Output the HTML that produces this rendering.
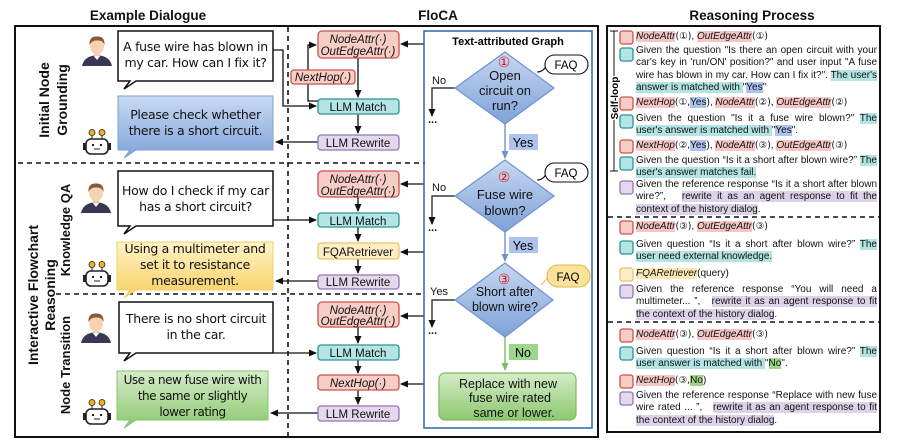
<!DOCTYPE html>
<html><head><meta charset="utf-8"><style>
body{margin:0;width:897px;height:441px;background:#fff;position:relative;overflow:hidden;font-family:"Liberation Sans","DejaVu Sans",sans-serif}
.a{position:absolute}
.bt{position:absolute;font-family:"DejaVu Sans",sans-serif;font-size:12.5px;line-height:16px;text-align:center;color:#111;letter-spacing:-0.3px;white-space:nowrap}
.p{position:absolute;left:636px;width:241px;font-size:10px;line-height:12.4px;text-align:justify;text-align-last:left;color:#111}
.hr{background:#f5c6c6}.ht{background:#b3e3e3}.hb{background:#adc3ee}.hp{background:#ddd3e8}.hg{background:#9fd48c}.hy{background:#fbe8b5}
i{font-style:italic}
.c{font-family:"DejaVu Sans",sans-serif;font-size:9.5px}
</style></head><body>
<svg class="a" style="left:0;top:0" width="897" height="441" viewBox="0 0 897 441">
<defs>
<marker id="ar" markerWidth="8" markerHeight="8" refX="7" refY="4" orient="auto" markerUnits="userSpaceOnUse"><path d="M0,0.5 L8,4 L0,7.5 Z" fill="#111"/></marker>
<marker id="ab" markerWidth="8" markerHeight="8" refX="7" refY="4" orient="auto" markerUnits="userSpaceOnUse"><path d="M0,0.5 L8,4 L0,7.5 Z" fill="#6d93cf"/></marker>
<marker id="ag" markerWidth="8" markerHeight="8" refX="7" refY="4" orient="auto" markerUnits="userSpaceOnUse"><path d="M0,0.5 L8,4 L0,7.5 Z" fill="#7cbb5e"/></marker>
<linearGradient id="gb" x1="0" y1="0" x2="0" y2="1"><stop offset="0" stop-color="#c9d9f2"/><stop offset="1" stop-color="#7fa4da"/></linearGradient>
<linearGradient id="gy" x1="0" y1="0" x2="0" y2="1"><stop offset="0" stop-color="#fff3c8"/><stop offset="1" stop-color="#f6cf5e"/></linearGradient>
<linearGradient id="gg" x1="0" y1="0" x2="0" y2="1"><stop offset="0" stop-color="#d5ecc8"/><stop offset="1" stop-color="#8cc96f"/></linearGradient>
<linearGradient id="gd" x1="0" y1="0" x2="0" y2="1"><stop offset="0" stop-color="#c7d7f0"/><stop offset="1" stop-color="#7ea2d8"/></linearGradient>
<g id="person"><path d="M0,30 Q2,20 15,19 Q28,20 30,30 Z" fill="#3b3656"/><path d="M11,19 L15,24 L19,19 Z" fill="#fff"/><rect x="12" y="14" width="6" height="6" fill="#f2c9a6"/><ellipse cx="15" cy="10" rx="7" ry="8.5" fill="#f6d2b2"/><path d="M7.5,9 Q7,0 15,0.5 Q23,0 22.5,9 Q21,4 15,4.5 Q10,4 7.5,9 Z" fill="#8a5a34"/></g>
<g id="robot"><line x1="8" y1="4" x2="8" y2="10" stroke="#222"/><line x1="18" y1="4" x2="18" y2="10" stroke="#222"/><circle cx="8" cy="3.5" r="3" fill="#f3b21a" stroke="#222" stroke-width=".8"/><circle cx="18" cy="3.5" r="3" fill="#f3b21a" stroke="#222" stroke-width=".8"/><rect x="2" y="10" width="22" height="15" rx="5" fill="#fff" stroke="#222" stroke-width="1.6"/><rect x="-1" y="14" width="3" height="7" fill="#222"/><rect x="24" y="14" width="3" height="7" fill="#222"/><rect x="8" y="15" width="2" height="2" fill="#222"/><rect x="16" y="15" width="2" height="2" fill="#222"/><line x1="10" y1="20" x2="16" y2="20" stroke="#222"/></g>
</defs>
<g font-weight="bold" font-size="13.5" text-anchor="middle" fill="#111">
<text x="148" y="20">Example Dialogue</text><text x="438" y="20">FloCA</text><text x="752" y="20">Reasoning Process</text></g>
<rect x="15" y="26" width="583" height="411" fill="none" stroke="#111" stroke-width="2"/>
<rect x="607" y="26" width="273" height="406" fill="none" stroke="#111" stroke-width="2"/>
<line x1="288" y1="27" x2="288" y2="436" stroke="#111" stroke-width="1.6" stroke-dasharray="5,4"/>
<line x1="18" y1="163" x2="425" y2="163" stroke="#111" stroke-width="1.6" stroke-dasharray="5,4"/>
<line x1="56" y1="294" x2="425" y2="294" stroke="#111" stroke-width="1.6" stroke-dasharray="5,4"/>
<line x1="608" y1="217" x2="880" y2="217" stroke="#111" stroke-width="1.6" stroke-dasharray="5,4"/>
<line x1="608" y1="322" x2="880" y2="322" stroke="#111" stroke-width="1.6" stroke-dasharray="5,4"/>
<g font-weight="bold" font-size="14" text-anchor="middle" fill="#111">
<text transform="translate(49,100) rotate(-90)">Initial Node</text><text transform="translate(67,100) rotate(-90)">Grounding</text>
<text transform="translate(38,295) rotate(-90)">Interactive Flowchart</text><text transform="translate(55,295) rotate(-90)">Reasoning</text>
<text font-size="13" transform="translate(70,230) rotate(-90)">Knowledge QA</text>
<text font-size="13" transform="translate(70,365) rotate(-90)">Node Transition</text></g>
<use href="#person" x="82" y="36"/><use href="#person" x="81" y="183"/><use href="#person" x="81" y="313"/>
<use href="#robot" x="84" y="129"/><use href="#robot" x="84" y="261"/><use href="#robot" x="84" y="399"/>
<g stroke="#111" stroke-width="1.5" fill="#fff">
<path d="M118,31 H273 V81 H136 L124,89 L130,81 H118 Z"/>
<path d="M118,171 H273 V226 H136 L124,234 L130,226 H118 Z"/>
<path d="M119,302 H273 V353 H136 L124,361 L130,353 H119 Z"/></g>
<path d="M118,96 H273 V150 H136 L124,158 L130,150 H118 Z" fill="url(#gb)" stroke="#7aa0d6"/>
<path d="M117,242 H273 V290 H136 L124,298 L130,290 H117 Z" fill="url(#gy)" stroke="#f2cf6a"/>
<path d="M117,371 H268 V420 H136 L124,428 L130,420 H117 Z" fill="url(#gg)" stroke="#8ac36f"/>
<g stroke="#111" stroke-width="1.3" fill="none">
<path d="M273,50 H283 V106 H316" marker-end="url(#ar)"/>
<path d="M318,101 H308 V45 H316" marker-end="url(#ar)"/>
<path d="M358,58 V97" marker-end="url(#ar)"/><path d="M358,114 V133" marker-end="url(#ar)"/>
<path d="M318,142 H276" marker-end="url(#ar)"/><path d="M424,44 H401" marker-end="url(#ar)"/>
<path d="M273,220 H316" marker-end="url(#ar)"/><path d="M424,184 H401" marker-end="url(#ar)"/>
<path d="M358,197 V211" marker-end="url(#ar)"/><path d="M358,227 V241" marker-end="url(#ar)"/>
<path d="M424,252 H401" marker-end="url(#ar)"/><path d="M358,259 V273" marker-end="url(#ar)"/>
<path d="M318,281 H276" marker-end="url(#ar)"/>
<path d="M273,353 H316" marker-end="url(#ar)"/><path d="M424,316 H401" marker-end="url(#ar)"/>
<path d="M358,327 V343" marker-end="url(#ar)"/><path d="M358,360 V373" marker-end="url(#ar)"/>
<path d="M424,384 H401" marker-end="url(#ar)"/><path d="M358,390 V404" marker-end="url(#ar)"/>
<path d="M318,413 H271" marker-end="url(#ar)"/></g>
<g stroke-width="1.3">
<rect x="318" y="31" width="81" height="27" rx="4" fill="#f7cdc6" stroke="#c9544a"/>
<rect x="291" y="70" width="64" height="14" rx="3" fill="#f7cdc6" stroke="#c9544a"/>
<rect x="318" y="99" width="81" height="15" rx="3" fill="#b4e4e4" stroke="#2a9494"/>
<rect x="318" y="135" width="81" height="15" rx="3" fill="#e3d8ec" stroke="#9575b5"/>
<rect x="318" y="171" width="81" height="26" rx="4" fill="#f7cdc6" stroke="#c9544a"/>
<rect x="318" y="213" width="81" height="14" rx="3" fill="#b4e4e4" stroke="#2a9494"/>
<rect x="318" y="243" width="81" height="16" rx="3" fill="#fdedc4" stroke="#e9c46a"/>
<rect x="318" y="275" width="81" height="14" rx="3" fill="#e3d8ec" stroke="#9575b5"/>
<rect x="318" y="302" width="81" height="25" rx="4" fill="#f7cdc6" stroke="#c9544a"/>
<rect x="318" y="345" width="81" height="15" rx="3" fill="#b4e4e4" stroke="#2a9494"/>
<rect x="318" y="375" width="81" height="15" rx="3" fill="#f7cdc6" stroke="#c9544a"/>
<rect x="318" y="406" width="81" height="15" rx="3" fill="#e3d8ec" stroke="#9575b5"/></g>
<g font-size="11.5" text-anchor="middle" fill="#111">
<text x="358" y="43" font-style="italic">NodeAttr(·)</text><text x="358" y="55" font-style="italic">OutEdgeAttr(·)</text>
<text x="323" y="81" font-style="italic">NextHop(·)</text>
<text x="358" y="111">LLM Match</text><text x="358" y="147">LLM Rewrite</text>
<text x="358" y="183" font-style="italic">NodeAttr(·)</text><text x="358" y="195" font-style="italic">OutEdgeAttr(·)</text>
<text x="358" y="225">LLM Match</text><text x="358" y="256">FQARetriever</text><text x="358" y="286">LLM Rewrite</text>
<text x="358" y="314" font-style="italic">NodeAttr(·)</text><text x="358" y="325" font-style="italic">OutEdgeAttr(·)</text>
<text x="358" y="357">LLM Match</text><text x="358" y="387" font-style="italic">NextHop(·)</text><text x="358" y="418">LLM Rewrite</text></g>
<rect x="424" y="31" width="168" height="397" fill="none" stroke="#2f64b0" stroke-width="1.5"/>
<text x="508" y="45" font-weight="bold" font-size="11" text-anchor="middle">Text-attributed Graph</text>
<g stroke="#6d93cf" stroke-width="1.4" fill="none">
<path d="M505,124 V158" marker-end="url(#ab)"/><path d="M505,232 V261" marker-end="url(#ab)"/></g>
<path d="M505,337 V370" stroke="#7cbb5e" stroke-width="1.4" marker-end="url(#ag)"/>
<g stroke="#111" stroke-width="1.2" fill="none">
<path d="M455,88 H432 V116" marker-end="url(#ar)"/><path d="M455,196 H432 V224" marker-end="url(#ar)"/><path d="M455,300 H432 V327" marker-end="url(#ar)"/></g>
<g font-size="11" fill="#111"><text x="432" y="84">No</text><text x="432" y="191">No</text><text x="430" y="295">Yes</text>
<text x="428" y="123" font-weight="bold">...</text><text x="428" y="231" font-weight="bold">...</text><text x="428" y="334" font-weight="bold">...</text></g>
<g stroke="#6d93cf" stroke-width="1.2" fill="url(#gd)">
<path d="M505,52 L554,88 L505,124 L455,88 Z"/><path d="M505,160 L554,196 L505,232 L455,196 Z"/><path d="M505,263 L553,300 L505,337 L455,300 Z"/></g>
<g font-size="13" text-anchor="middle" fill="#111">
<text x="505" y="80">Open</text><text x="505" y="95">circuit on</text><text x="505" y="110">run?</text>
<text x="505" y="199">Fuse wire</text><text x="505" y="215">blown?</text>
<text x="505" y="296" font-size="12.5">Short after</text><text x="505" y="311" font-size="12.5">blown wire?</text></g>
<g font-family="DejaVu Sans,sans-serif" fill="#e11" text-anchor="middle" font-size="14"><text x="504" y="67">①</text><text x="504" y="182">②</text><text x="504" y="284">③</text><text x="448" y="414">④</text></g>
<rect x="509" y="134" width="29" height="16" fill="#adc3ee"/><text x="523" y="147" font-size="12.5" text-anchor="middle">Yes</text>
<rect x="509" y="237" width="29" height="16" fill="#adc3ee"/><text x="523" y="250" font-size="12.5" text-anchor="middle">Yes</text>
<rect x="509" y="344" width="29" height="16" fill="#9fd48c"/><text x="523" y="357" font-size="12.5" text-anchor="middle">No</text>
<rect x="439" y="373" width="137" height="47" rx="6" fill="url(#gg)" stroke="#7cbb5e" stroke-width="1.2"/>
<g font-size="12.5" text-anchor="middle" fill="#111"><text x="508" y="388">Replace with new</text><text x="510" y="402">fuse wire rated</text><text x="514" y="417">same or lower.</text></g>
<g stroke="#111" stroke-width="1.1"><path d="M537,72 Q544,72 547,64" fill="none"/><rect x="545" y="55" width="43" height="19" rx="9.5" fill="#fff"/>
<path d="M537,180 Q544,180 547,172" fill="none"/><rect x="545" y="163" width="43" height="19" rx="9.5" fill="#fff"/></g>
<path d="M541,285 Q546,280 549,276" fill="none" stroke="#e2b84a"/><rect x="547" y="265" width="43" height="22" rx="11" fill="#fbe29a" stroke="#e2b84a" stroke-width="1.1"/>
<g font-size="11.5" text-anchor="middle"><text x="566" y="69">FAQ</text><text x="566" y="177">FAQ</text><text x="568" y="281">FAQ</text></g>
<line x1="614" y1="31" x2="614" y2="171" stroke="#111"/><line x1="610" y1="31" x2="618" y2="31" stroke="#111"/><line x1="610" y1="171" x2="618" y2="171" stroke="#111"/>
<rect x="608" y="76" width="12" height="44" fill="#fff"/>
<text transform="translate(618,98) rotate(-90)" font-size="10" font-weight="bold" text-anchor="middle">Self-loop</text>
<g stroke-width="1.3">
<rect x="620" y="31" width="13" height="13" rx="2.5" fill="#f7cdc6" stroke="#c9544a"/>
<rect x="620" y="48" width="13" height="13" rx="2.5" fill="#b4e4e4" stroke="#2a9494"/>
<rect x="620" y="97" width="13" height="13" rx="2.5" fill="#f7cdc6" stroke="#c9544a"/>
<rect x="620" y="115" width="13" height="13" rx="2.5" fill="#b4e4e4" stroke="#2a9494"/>
<rect x="620" y="140" width="13" height="13" rx="2.5" fill="#f7cdc6" stroke="#c9544a"/>
<rect x="620" y="157" width="13" height="13" rx="2.5" fill="#b4e4e4" stroke="#2a9494"/>
<rect x="620" y="181" width="13" height="13" rx="2.5" fill="#e3d8ec" stroke="#9575b5"/>
<rect x="620" y="221" width="13" height="13" rx="2.5" fill="#f7cdc6" stroke="#c9544a"/>
<rect x="620" y="241" width="13" height="13" rx="2.5" fill="#b4e4e4" stroke="#2a9494"/>
<rect x="620" y="268" width="13" height="13" rx="2.5" fill="#fdedc4" stroke="#e9c46a"/>
<rect x="620" y="285" width="13" height="13" rx="2.5" fill="#e3d8ec" stroke="#9575b5"/>
<rect x="620" y="329" width="13" height="13" rx="2.5" fill="#f7cdc6" stroke="#c9544a"/>
<rect x="620" y="347" width="13" height="13" rx="2.5" fill="#b4e4e4" stroke="#2a9494"/>
<rect x="620" y="375" width="13" height="13" rx="2.5" fill="#f7cdc6" stroke="#c9544a"/>
<rect x="620" y="392" width="13" height="13" rx="2.5" fill="#e3d8ec" stroke="#9575b5"/></g>
</svg>
<div class="bt" style="left:118px;top:39px;width:155px">A fuse wire has blown in<br>my car. How can I fix it?</div>
<div class="bt" style="left:118px;top:107px;width:155px">Please check whether<br>there is a short circuit.</div>
<div class="bt" style="left:118px;top:183px;width:155px">How do I check if my car<br>has a short circuit?</div>
<div class="bt" style="left:117px;top:241px;width:156px">Using a multimeter and<br>set it to resistance<br>measurement.</div>
<div class="bt" style="left:119px;top:311px;width:154px">There is no short circuit<br>in the car.</div>
<div class="bt" style="left:117px;top:372px;width:151px;font-size:12px;letter-spacing:-0.5px">Use a new fuse wire with<br>the same or slightly<br>lower rating</div>
<div class="p" style="top:31px"><span class="hr"><i>NodeAttr</i></span><span class="c">(①)</span>, <span class="hr"><i>OutEdgeAttr</i></span><span class="c">(①)</span></div>
<div class="p" style="top:45px">Given the question "Is there an open circuit with your car's key in 'run/ON' position?" and user input "A fuse wire has blown in my car. How can I fix it?". <span class="ht">The user's answer is matched with </span>"<span class="hb">Yes</span>"</div>
<div class="p" style="top:97px"><span class="hr"><i>NextHop</i></span><span class="c">(①,</span><span class="hb">Yes</span>), <span class="hr"><i>NodeAttr</i></span><span class="c">(②)</span>, <span class="hr"><i>OutEdgeAttr</i></span><span class="c">(②)</span></div>
<div class="p" style="top:113px">Given the question "Is it a fuse wire blown?" <span class="ht">The user's answer is matched with </span>"<span class="hb">Yes</span>".</div>
<div class="p" style="top:140px"><span class="hr"><i>NextHop</i></span><span class="c">(②,</span><span class="hb">Yes</span>), <span class="hr"><i>NodeAttr</i></span><span class="c">(③)</span>, <span class="hr"><i>OutEdgeAttr</i></span><span class="c">(③)</span></div>
<div class="p" style="top:155px">Given the question “Is it a short after blown wire?” <span class="ht">The user's answer matches fail.</span></div>
<div class="p" style="top:179px">Given the reference response “Is it a short after blown wire?”,&nbsp;&nbsp; <span class="hp">rewrite it as an agent response to fit the context of the history dialog</span>.</div>
<div class="p" style="top:221px"><span class="hr"><i>NodeAttr</i></span><span class="c">(③)</span>, <span class="hr"><i>OutEdgeAttr</i></span><span class="c">(③)</span></div>
<div class="p" style="top:239px">Given question “Is it a short after blown wire?” <span class="ht">The user need external knowledge.</span></div>
<div class="p" style="top:268px"><span class="hy"><i>FQARetriever</i></span>(query)</div>
<div class="p" style="top:284px">Given the reference response “You will need a multimeter... ”,&nbsp;&nbsp; <span class="hp">rewrite it as an agent response to fit the context of the history dialog</span>.</div>
<div class="p" style="top:329px"><span class="hr"><i>NodeAttr</i></span><span class="c">(③)</span>, <span class="hr"><i>OutEdgeAttr</i></span><span class="c">(③)</span></div>
<div class="p" style="top:346px">Given question “Is it a short after blown wire?” <span class="ht">The user answer is matched with </span>"<span class="hg">No</span>".</div>
<div class="p" style="top:375px"><span class="hr"><i>NextHop</i></span><span class="c">(③,</span><span class="hg">No</span>)</div>
<div class="p" style="top:390px">Given the reference response “Replace with new fuse wire rated ... ”,&nbsp;&nbsp; <span class="hp">rewrite it as an agent response to fit the context of the history dialog</span>.</div>
</body></html>
